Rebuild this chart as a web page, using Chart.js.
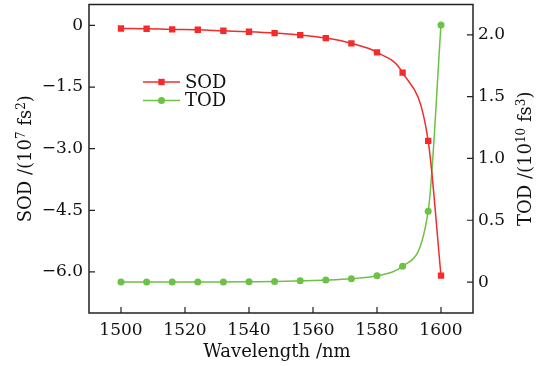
<!DOCTYPE html>
<html lang="en">
<head>
    <meta charset="UTF-8">
    <title>SOD and TOD vs Wavelength</title>
    <style>
        body { margin: 0; background: #fff; }
        .wrap { width: 544px; height: 366px; position: relative; }
    </style>
    <script src="https://cdn.jsdelivr.net/npm/chart.js"></script>
</head>
<body>
    <div class="wrap"><canvas id="chart"></canvas></div>

    <script>
        // Data
        const wavelength = [1500, 1508, 1516, 1524, 1532, 1540, 1548, 1556, 1564, 1572, 1580, 1588, 1596, 1600];
        const sod = [-0.073, -0.08, -0.097, -0.105, -0.13, -0.153, -0.186, -0.235, -0.308, -0.437, -0.656, -1.15, -2.81, -6.09];
        const tod = [0.0, 0.0, 0.0, 0.0, 0.001, 0.003, 0.005, 0.01, 0.016, 0.027, 0.051, 0.129, 0.573, 2.08];

        const xTicks = [1500, 1520, 1540, 1560, 1580, 1600];
        const sodTicks = [0, -1.5, -3.0, -4.5, -6.0];
        const todTicks = [0, 0.5, 1.0, 1.5, 2.0];

        const FONT = 'DejaVu Serif';
        const red = '#f32b2b';
        const green = '#6cc146';

        const fmt = v => v === 0 ? '0' : v.toFixed(1).replace('-', '\u2212');
        const setTicks = list => scale => { scale.ticks = list.map(v => ({ value: v })); };

        // title pieces: [text, isSuperscript]
        const xTitle = [['Wavelength /nm', false]];
        const sodTitle = [['SOD /(10', false], ['7', true], [' fs', false], ['2', true], [')', false]];
        const todTitle = [['TOD /(10', false], ['10', true], [' fs', false], ['3', true], [')', false]];

        function drawTitle(ctx, parts, cx, cy, rot) {
            const big = '18px "' + FONT + '"', small = '12px "' + FONT + '"';
            let w = 0;
            parts.forEach(([t, sup]) => { ctx.font = sup ? small : big; w += ctx.measureText(t).width; });
            ctx.save();
            ctx.translate(cx, cy);
            ctx.rotate(rot);
            ctx.fillStyle = '#111';
            ctx.textBaseline = 'alphabetic';
            let x = -w / 2;
            parts.forEach(([t, sup]) => {
                ctx.font = sup ? small : big;
                ctx.fillText(t, x, sup ? 0 : 6);
                x += ctx.measureText(t).width;
            });
            ctx.restore();
        }

        // inward tick marks + box around the plot + axis titles
        const frameAndTicks = {
            id: 'frameAndTicks',
            afterDraw(chart) {
                const { ctx, chartArea: a, scales } = chart;
                const len = 6;
                ctx.save();
                ctx.strokeStyle = '#222';
                ctx.lineWidth = 1.2;
                ctx.beginPath();
                xTicks.forEach(v => {
                    const px = scales.x.getPixelForValue(v);
                    ctx.moveTo(px, a.bottom); ctx.lineTo(px, a.bottom - len);
                });
                sodTicks.forEach(v => {
                    const py = scales.y.getPixelForValue(v);
                    ctx.moveTo(a.left, py); ctx.lineTo(a.left + len, py);
                });
                todTicks.forEach(v => {
                    const py = scales.y2.getPixelForValue(v);
                    ctx.moveTo(a.right, py); ctx.lineTo(a.right - len, py);
                });
                ctx.stroke();
                ctx.lineWidth = 1.5;
                ctx.strokeRect(a.left, a.top, a.right - a.left, a.bottom - a.top);
                ctx.restore();

                const midY = (a.top + a.bottom) / 2;
                drawTitle(ctx, xTitle, (a.left + a.right) / 2 - 4, 351, 0);
                drawTitle(ctx, sodTitle, 25, midY, -Math.PI / 2);
                drawTitle(ctx, todTitle, 525, midY, -Math.PI / 2);
            }
        };

        // legend with line + marker, like the original
        const lineLegend = {
            id: 'lineLegend',
            afterDraw(chart) {
                const { ctx } = chart;
                const x0 = 143, x1 = 180;
                let y = 82;
                ctx.save();
                ctx.font = '18px "' + FONT + '"';
                ctx.textBaseline = 'middle';
                chart.data.datasets.forEach(ds => {
                    ctx.strokeStyle = ds.borderColor;
                    ctx.lineWidth = 1.5;
                    ctx.beginPath();
                    ctx.moveTo(x0, y); ctx.lineTo(x1, y);
                    ctx.stroke();
                    ctx.fillStyle = ds.backgroundColor;
                    Chart.helpers.drawPoint(ctx, { pointStyle: ds.pointStyle, radius: ds.pointRadius, borderWidth: 0 }, (x0 + x1) / 2, y);
                    ctx.fillStyle = '#111';
                    ctx.fillText(ds.label, x1 + 5, y + 1);
                    y += 18.5;
                });
                ctx.restore();
            }
        };

        const tickFont = { family: FONT, size: 17 };
        const noPad = s => { s.paddingTop = 0; s.paddingBottom = 0; s.paddingLeft = 0; s.paddingRight = 0; };

        const ctx = document.getElementById('chart').getContext('2d');
        new Chart(ctx, {
            type: 'line',
            data: {
                datasets: [{
                    label: 'SOD',
                    data: wavelength.map((w, i) => ({ x: w, y: sod[i] })),
                    yAxisID: 'y',
                    borderColor: red,
                    backgroundColor: red,
                    borderWidth: 1.5,
                    pointStyle: 'rect',
                    pointRadius: 4.5,
                    pointBorderWidth: 0,
                    cubicInterpolationMode: 'monotone'
                }, {
                    label: 'TOD',
                    data: wavelength.map((w, i) => ({ x: w, y: tod[i] })),
                    yAxisID: 'y2',
                    borderColor: green,
                    backgroundColor: green,
                    borderWidth: 1.5,
                    pointStyle: 'circle',
                    pointRadius: 3.5,
                    pointBorderWidth: 0,
                    cubicInterpolationMode: 'monotone'
                }]
            },
            options: {
                responsive: true,
                maintainAspectRatio: false,
                animation: false,
                layout: { padding: { top: 4, left: 0, right: 0, bottom: 0 } },
                plugins: { legend: { display: false }, tooltip: { enabled: false } },
                scales: {
                    x: {
                        type: 'linear', min: 1490, max: 1610,
                        afterBuildTicks: setTicks(xTicks),
                        afterFit: s => { noPad(s); s.height = 53; },
                        grid: { display: false, drawTicks: false },
                        border: { display: false },
                        ticks: { color: '#111', font: tickFont, padding: 7, maxRotation: 0, callback: v => String(v) }
                    },
                    y: {
                        type: 'linear', position: 'left', min: -7.0, max: 0.51,
                        afterBuildTicks: setTicks(sodTicks),
                        afterFit: s => { noPad(s); s.width = 89; },
                        grid: { display: false, drawTicks: false },
                        border: { display: false },
                        ticks: { color: '#111', font: tickFont, padding: 6, callback: fmt }
                    },
                    y2: {
                        type: 'linear', position: 'right', min: -0.25, max: 2.245,
                        afterBuildTicks: setTicks(todTicks),
                        afterFit: s => { noPad(s); s.width = 71; },
                        grid: { display: false, drawTicks: false },
                        border: { display: false },
                        ticks: { color: '#111', font: tickFont, padding: 5, callback: fmt }
                    }
                }
            },
            plugins: [frameAndTicks, lineLegend]
        });
    </script>
</body>
</html>
